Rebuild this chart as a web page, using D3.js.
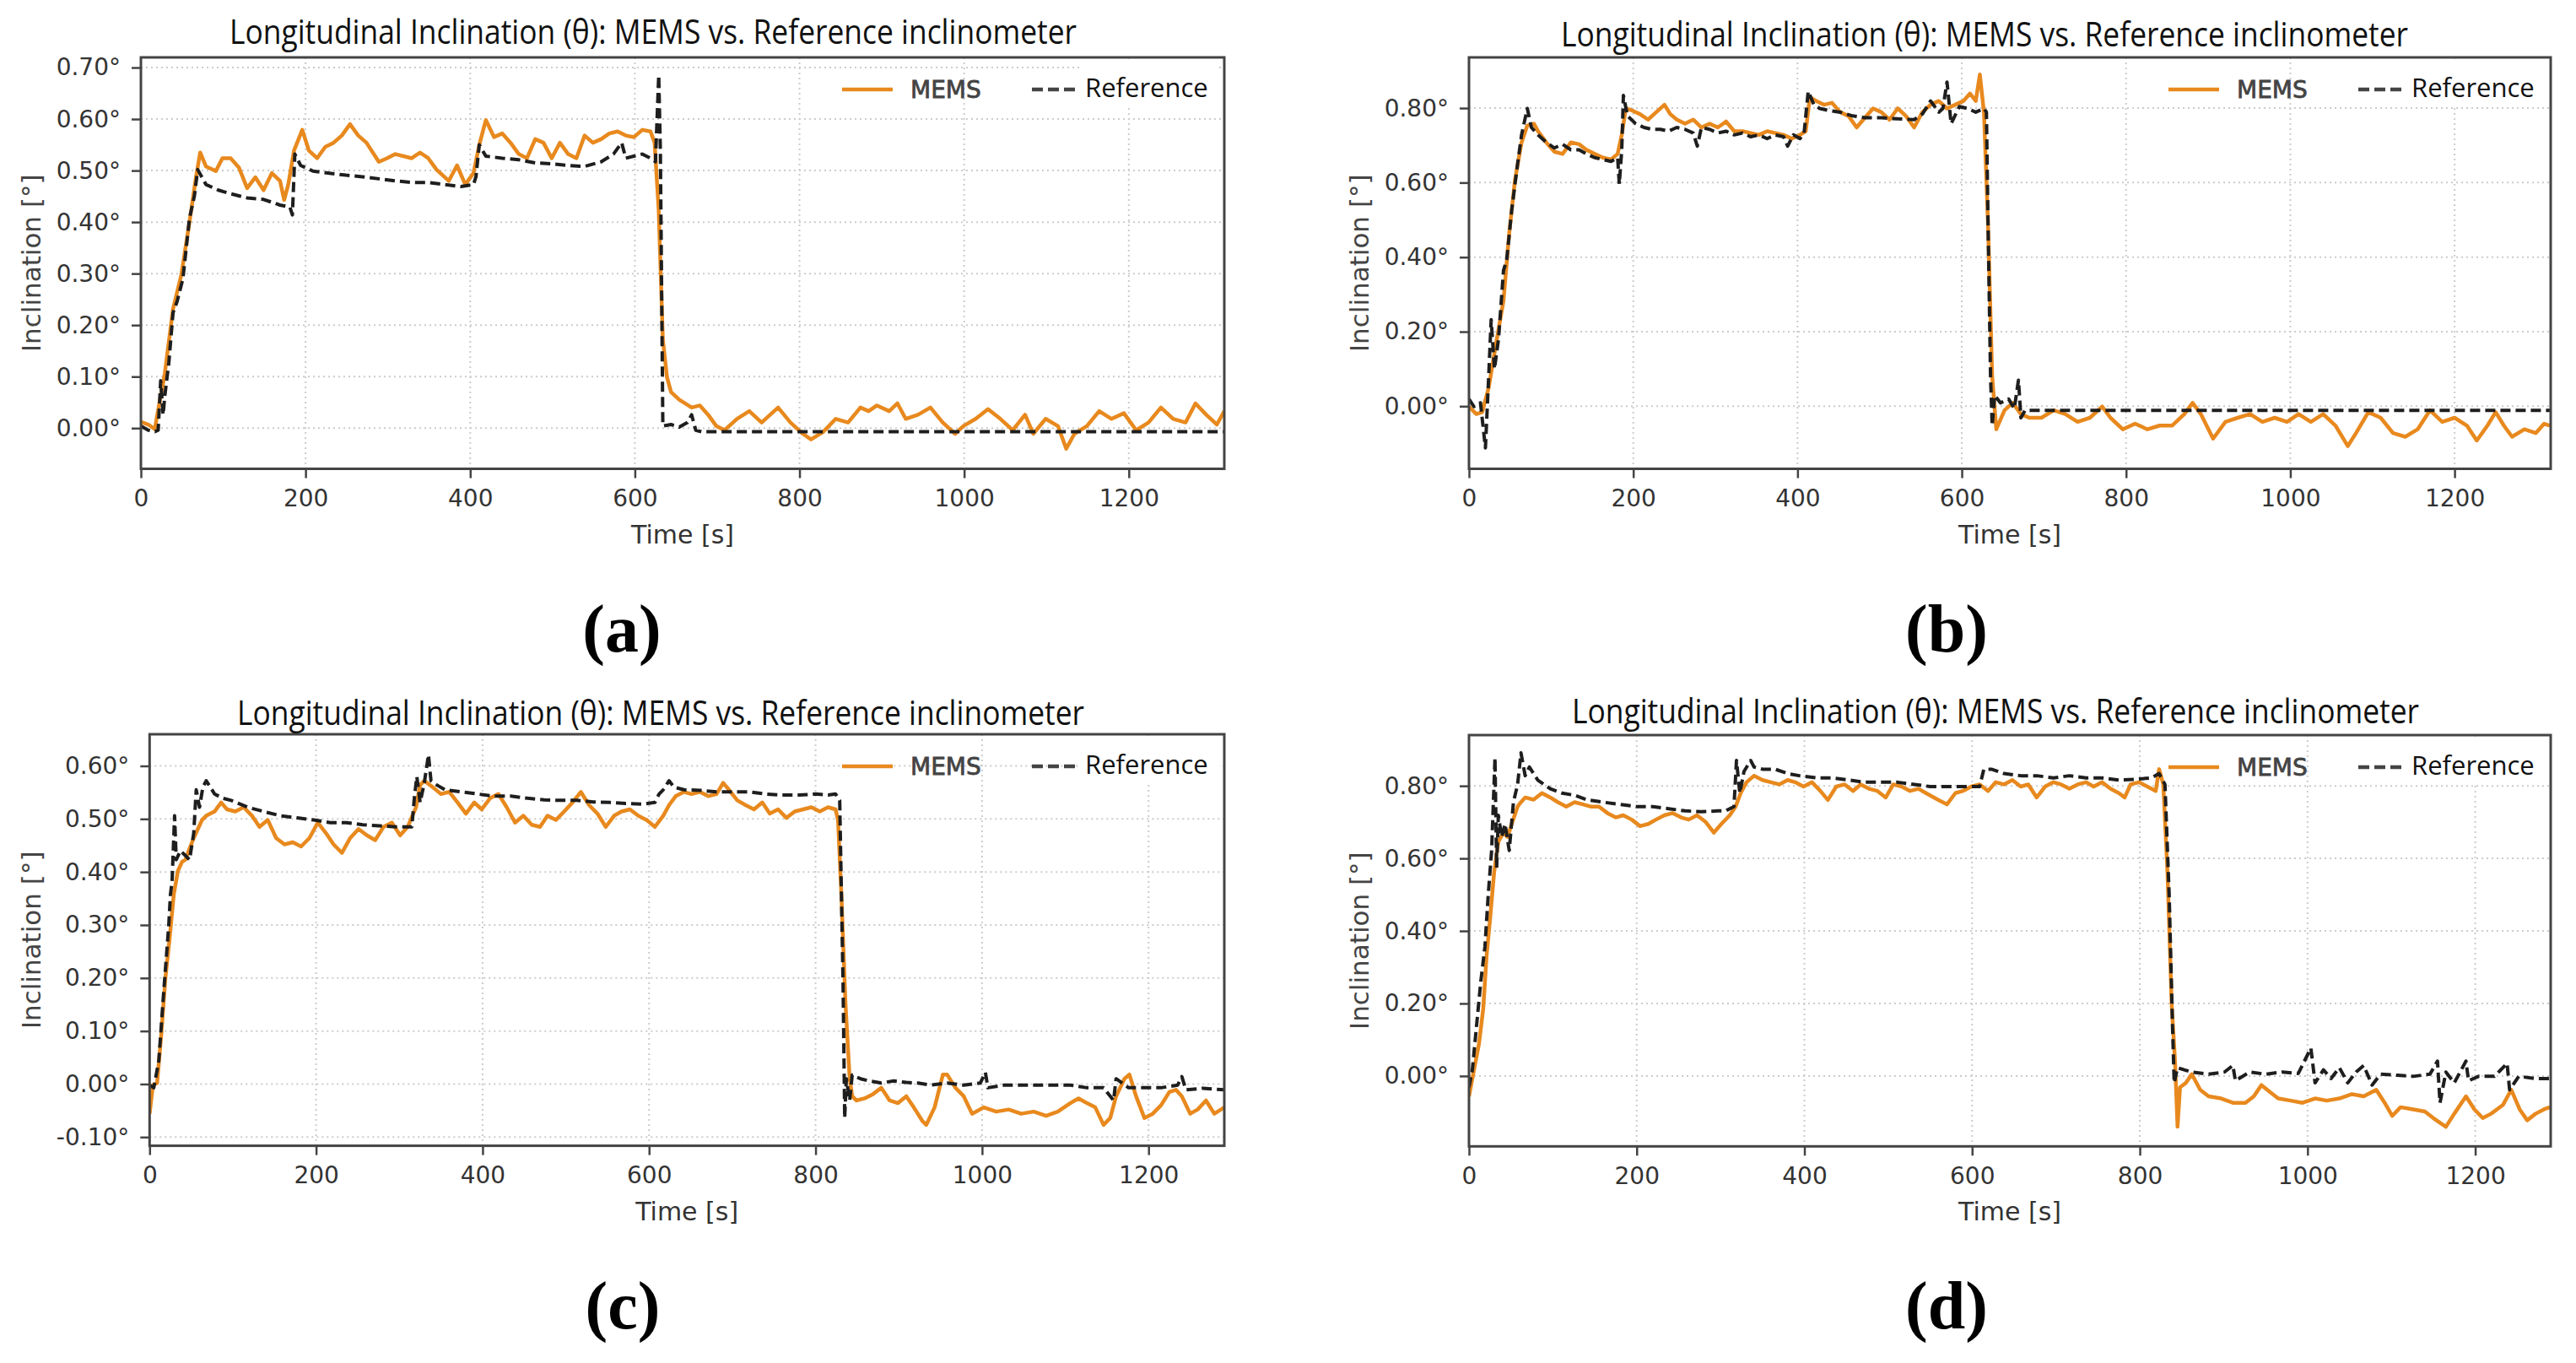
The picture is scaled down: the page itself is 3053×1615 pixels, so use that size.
<!DOCTYPE html>
<html>
<head>
<meta charset="utf-8">
<script src="https://cdn.jsdelivr.net/npm/d3@7"></script>
<style>
  body { margin: 0; background: #fff; }
  svg { display: block; }
</style>
</head>
<body>
<svg id="fig" width="3053" height="1615"></svg>
<script>
// ---- data ----
var titleText = "Longitudinal Inclination (θ): MEMS vs. Reference inclinometer";
var xLabel = "Time [s]";
var yLabel = "Inclination [°]";
var seriesNames = ["MEMS", "Reference"];
var panelTags = ["(a)", "(b)", "(c)", "(d)"];

var xTicks = [0, 200, 400, 600, 800, 1000, 1200];
var yTicksA = [0, 0.1, 0.2, 0.3, 0.4, 0.5, 0.6, 0.7];
var yTicksB = [0, 0.2, 0.4, 0.6, 0.8];
var yTicksC = [-0.1, 0, 0.1, 0.2, 0.3, 0.4, 0.5, 0.6];
var yTicksD = [0, 0.2, 0.4, 0.6, 0.8];

// [time s, inclination deg]
var memsA = [[0,0.012],[9,0.007],[17,-0.002],[19,0.018],[29,0.106],[39,0.231],[49,0.297],[59,0.400],[67,0.488],[72,0.535],[79,0.508],[91,0.499],[99,0.524],[109,0.524],[119,0.506],[129,0.466],[139,0.487],[149,0.462],[159,0.495],[169,0.480],[174,0.443],[179,0.473],[186,0.539],[196,0.579],[204,0.539],[214,0.524],[224,0.546],[234,0.554],[244,0.568],[254,0.590],[264,0.568],[274,0.554],[289,0.517],[299,0.524],[309,0.532],[329,0.524],[339,0.535],[349,0.524],[359,0.502],[374,0.480],[384,0.510],[394,0.473],[404,0.495],[411,0.550],[419,0.598],[429,0.565],[439,0.572],[449,0.554],[459,0.532],[469,0.524],[479,0.561],[489,0.554],[499,0.524],[509,0.554],[519,0.532],[529,0.524],[539,0.568],[549,0.554],[559,0.561],[569,0.572],[579,0.576],[589,0.568],[599,0.565],[609,0.579],[619,0.576],[624,0.554],[629,0.422],[634,0.172],[639,0.099],[644,0.070],[654,0.055],[669,0.040],[679,0.044],[689,0.026],[699,0.004],[709,-0.004],[724,0.018],[739,0.033],[754,0.011],[774,0.040],[789,0.011],[804,-0.011],[814,-0.022],[829,-0.007],[844,0.018],[859,0.011],[874,0.040],[884,0.033],[894,0.044],[909,0.033],[919,0.048],[929,0.018],[944,0.026],[959,0.040],[974,0.011],[989,-0.011],[999,0.004],[1014,0.018],[1029,0.037],[1044,0.018],[1059,-0.004],[1074,0.026],[1084,-0.011],[1099,0.018],[1114,0.004],[1124,-0.040],[1134,-0.011],[1149,0.004],[1164,0.033],[1179,0.018],[1194,0.029],[1209,-0.004],[1224,0.011],[1239,0.040],[1254,0.018],[1269,0.011],[1281,0.048],[1294,0.026],[1307,0.007],[1316,0.033]];
var refA = [[0,0.004],[9,-0.004],[17,-0.007],[21,-0.004],[24,0.092],[27,0.026],[29,0.062],[34,0.128],[39,0.224],[44,0.246],[51,0.290],[59,0.407],[65,0.451],[69,0.502],[79,0.473],[94,0.462],[109,0.455],[129,0.447],[149,0.444],[169,0.433],[181,0.429],[184,0.414],[187,0.532],[194,0.510],[209,0.499],[229,0.495],[249,0.491],[269,0.488],[289,0.484],[309,0.480],[329,0.477],[349,0.477],[369,0.473],[389,0.469],[404,0.473],[407,0.488],[411,0.550],[419,0.528],[439,0.524],[459,0.521],[479,0.515],[499,0.513],[519,0.510],[539,0.508],[559,0.517],[574,0.532],[584,0.554],[589,0.524],[599,0.528],[609,0.532],[619,0.524],[625,0.517],[629,0.685],[631,0.539],[634,0.004],[644,0.007],[654,0.002],[664,0.011],[669,0.026],[674,-0.004],[681,-0.007],[1316,-0.007]];

var memsB = [[0,-0.001],[9,-0.021],[16,-0.016],[24,0.050],[34,0.181],[42,0.283],[49,0.465],[56,0.607],[64,0.708],[71,0.753],[79,0.758],[84,0.738],[94,0.708],[104,0.683],[114,0.677],[124,0.708],[134,0.703],[143,0.688],[153,0.677],[163,0.667],[173,0.662],[181,0.677],[186,0.728],[191,0.799],[198,0.794],[208,0.784],[218,0.769],[228,0.789],[238,0.809],[245,0.784],[253,0.769],[263,0.758],[273,0.769],[283,0.748],[293,0.758],[303,0.748],[313,0.764],[323,0.738],[333,0.738],[343,0.733],[353,0.728],[363,0.738],[373,0.733],[383,0.728],[393,0.718],[403,0.728],[410,0.738],[415,0.829],[423,0.819],[432,0.809],[442,0.814],[452,0.789],[462,0.779],[472,0.748],[482,0.774],[492,0.799],[502,0.789],[512,0.769],[522,0.799],[532,0.779],[542,0.748],[552,0.789],[562,0.809],[572,0.819],[582,0.799],[592,0.809],[602,0.819],[610,0.839],[617,0.819],[622,0.890],[627,0.789],[632,0.485],[637,0.080],[642,-0.062],[652,-0.011],[662,0.009],[672,-0.021],[682,-0.031],[697,-0.031],[712,-0.011],[726,-0.021],[741,-0.042],[756,-0.031],[771,-0.001],[781,-0.031],[796,-0.062],[811,-0.047],[826,-0.062],[841,-0.052],[856,-0.052],[871,-0.021],[881,0.009],[891,-0.021],[906,-0.087],[921,-0.042],[936,-0.031],[951,-0.021],[966,-0.042],[981,-0.031],[996,-0.042],[1010,-0.021],[1025,-0.042],[1040,-0.021],[1055,-0.052],[1070,-0.107],[1080,-0.072],[1095,-0.016],[1110,-0.031],[1125,-0.072],[1140,-0.082],[1155,-0.062],[1170,-0.011],[1185,-0.042],[1200,-0.031],[1215,-0.052],[1227,-0.092],[1240,-0.052],[1250,-0.016],[1260,-0.052],[1270,-0.082],[1285,-0.062],[1299,-0.072],[1309,-0.047],[1316,-0.052]];
var refB = [[0,0.019],[6,-0.001],[14,0.009],[20,-0.112],[24,0.080],[27,0.232],[31,0.100],[36,0.181],[42,0.364],[46,0.394],[52,0.526],[59,0.647],[64,0.728],[71,0.799],[76,0.748],[84,0.728],[94,0.708],[104,0.693],[114,0.703],[124,0.688],[134,0.688],[143,0.677],[153,0.667],[163,0.662],[173,0.657],[181,0.667],[183,0.596],[186,0.688],[188,0.834],[193,0.779],[203,0.758],[213,0.748],[223,0.743],[233,0.743],[243,0.738],[253,0.748],[263,0.743],[273,0.733],[278,0.698],[283,0.748],[293,0.743],[303,0.733],[313,0.738],[323,0.728],[333,0.733],[343,0.723],[353,0.728],[363,0.718],[373,0.728],[383,0.723],[388,0.698],[395,0.728],[403,0.718],[408,0.733],[413,0.845],[420,0.809],[427,0.799],[437,0.794],[452,0.789],[467,0.779],[482,0.774],[502,0.774],[522,0.771],[542,0.769],[552,0.784],[562,0.819],[572,0.789],[577,0.799],[582,0.870],[587,0.758],[597,0.804],[607,0.799],[617,0.789],[627,0.799],[630,0.789],[632,0.485],[635,0.080],[637,-0.052],[640,0.029],[647,0.009],[657,0.019],[664,-0.006],[669,0.070],[672,-0.031],[677,-0.011],[1316,-0.011]];

var memsC = [[0,-0.056],[4,-0.002],[9,0.002],[14,0.093],[19,0.200],[24,0.274],[29,0.357],[34,0.402],[39,0.419],[43,0.423],[48,0.444],[53,0.464],[58,0.481],[63,0.498],[68,0.506],[78,0.514],[86,0.531],[93,0.518],[103,0.514],[113,0.522],[123,0.506],[132,0.485],[142,0.498],[152,0.464],[162,0.452],[172,0.456],[182,0.448],[192,0.464],[202,0.493],[212,0.473],[221,0.452],[231,0.436],[241,0.464],[251,0.481],[261,0.469],[271,0.460],[281,0.485],[291,0.493],[301,0.469],[310,0.485],[320,0.522],[325,0.564],[330,0.572],[340,0.560],[350,0.547],[360,0.551],[370,0.531],[380,0.510],[390,0.531],[399,0.518],[409,0.539],[419,0.547],[429,0.522],[439,0.493],[449,0.506],[459,0.489],[469,0.485],[478,0.506],[488,0.498],[498,0.514],[508,0.531],[518,0.551],[528,0.526],[538,0.510],[548,0.485],[558,0.506],[567,0.514],[577,0.518],[587,0.506],[597,0.498],[607,0.485],[617,0.506],[624,0.526],[632,0.543],[642,0.551],[651,0.547],[661,0.551],[671,0.543],[681,0.547],[689,0.568],[696,0.555],[706,0.535],[716,0.526],[726,0.518],[736,0.531],[745,0.510],[755,0.518],[765,0.502],[775,0.514],[785,0.518],[795,0.522],[805,0.514],[815,0.522],[824,0.518],[827,0.498],[831,0.357],[836,0.150],[841,0.010],[844,-0.023],[849,-0.031],[859,-0.027],[869,-0.019],[879,-0.007],[889,-0.031],[899,-0.036],[909,-0.023],[918,-0.044],[928,-0.069],[933,-0.077],[943,-0.044],[953,0.018],[958,0.018],[968,-0.007],[978,-0.023],[988,-0.056],[1002,-0.044],[1017,-0.052],[1032,-0.048],[1047,-0.056],[1062,-0.052],[1077,-0.060],[1091,-0.052],[1106,-0.036],[1116,-0.027],[1126,-0.036],[1136,-0.044],[1146,-0.077],[1154,-0.064],[1161,-0.023],[1171,0.010],[1177,0.018],[1185,-0.023],[1195,-0.064],[1205,-0.056],[1215,-0.040],[1225,-0.015],[1233,-0.011],[1240,-0.023],[1250,-0.056],[1259,-0.048],[1269,-0.031],[1279,-0.056],[1291,-0.044]];
var refC = [[0,-0.002],[5,-0.007],[11,0.043],[17,0.175],[23,0.299],[25,0.357],[27,0.382],[30,0.506],[32,0.423],[37,0.440],[43,0.431],[48,0.423],[53,0.473],[56,0.555],[60,0.522],[64,0.560],[68,0.572],[73,0.560],[78,0.547],[88,0.539],[98,0.535],[118,0.522],[137,0.514],[157,0.506],[177,0.502],[197,0.498],[217,0.493],[236,0.493],[256,0.489],[276,0.487],[296,0.485],[315,0.485],[318,0.539],[321,0.580],[325,0.531],[330,0.568],[335,0.621],[338,0.572],[345,0.564],[355,0.555],[375,0.551],[394,0.547],[414,0.543],[434,0.543],[454,0.539],[474,0.536],[493,0.535],[513,0.535],[533,0.532],[553,0.531],[572,0.529],[592,0.528],[607,0.531],[612,0.547],[617,0.555],[624,0.572],[630,0.560],[642,0.555],[661,0.554],[681,0.551],[701,0.551],[721,0.551],[740,0.547],[760,0.545],[780,0.545],[800,0.547],[815,0.545],[824,0.547],[829,0.535],[833,0.192],[835,-0.064],[837,0.010],[841,-0.031],[844,0.017],[854,0.010],[864,0.006],[879,0.002],[894,0.006],[909,0.003],[923,0.002],[938,-0.002],[958,0.002],[978,-0.002],[998,0.002],[1004,0.022],[1007,-0.007],[1027,-0.002],[1047,-0.002],[1067,-0.002],[1086,-0.002],[1106,-0.002],[1126,-0.007],[1146,-0.007],[1158,-0.031],[1161,0.010],[1176,-0.007],[1195,-0.007],[1215,-0.007],[1235,-0.002],[1240,0.014],[1245,-0.011],[1265,-0.008],[1291,-0.011]];

var memsD = [[0,-0.056],[6,0.017],[12,0.090],[17,0.186],[21,0.332],[25,0.429],[30,0.562],[35,0.646],[41,0.671],[46,0.659],[51,0.695],[58,0.743],[62,0.755],[67,0.768],[77,0.762],[87,0.780],[97,0.768],[106,0.755],[116,0.743],[126,0.755],[136,0.749],[145,0.743],[155,0.743],[165,0.725],[175,0.713],[184,0.719],[194,0.707],[204,0.689],[214,0.695],[223,0.707],[233,0.719],[243,0.725],[253,0.713],[262,0.707],[272,0.719],[282,0.701],[292,0.671],[301,0.695],[311,0.719],[318,0.743],[324,0.780],[331,0.810],[340,0.828],[350,0.816],[360,0.810],[370,0.804],[380,0.816],[389,0.810],[399,0.798],[409,0.810],[419,0.786],[428,0.761],[438,0.798],[448,0.804],[458,0.786],[467,0.804],[477,0.792],[487,0.786],[497,0.768],[506,0.804],[516,0.798],[526,0.786],[536,0.792],[545,0.780],[560,0.761],[570,0.749],[580,0.780],[589,0.786],[599,0.798],[609,0.804],[619,0.786],[628,0.810],[638,0.804],[648,0.816],[658,0.798],[667,0.804],[677,0.768],[687,0.798],[697,0.810],[706,0.804],[716,0.792],[726,0.804],[736,0.810],[745,0.798],[755,0.810],[765,0.792],[775,0.780],[782,0.768],[789,0.804],[799,0.810],[809,0.798],[819,0.786],[823,0.846],[828,0.804],[833,0.562],[838,0.199],[842,0.041],[845,-0.140],[848,-0.031],[855,-0.019],[862,0.005],[872,-0.038],[882,-0.056],[897,-0.062],[911,-0.074],[926,-0.074],[936,-0.056],[945,-0.025],[955,-0.044],[965,-0.062],[980,-0.068],[994,-0.074],[1009,-0.062],[1023,-0.068],[1038,-0.062],[1053,-0.050],[1067,-0.056],[1082,-0.038],[1092,-0.074],[1101,-0.110],[1111,-0.086],[1126,-0.092],[1140,-0.098],[1150,-0.116],[1165,-0.140],[1175,-0.104],[1189,-0.056],[1199,-0.092],[1209,-0.116],[1219,-0.104],[1233,-0.080],[1243,-0.038],[1253,-0.092],[1262,-0.122],[1272,-0.104],[1282,-0.092],[1289,-0.086]];
var refD = [[0,-0.031],[4,0.017],[9,0.138],[14,0.259],[19,0.356],[23,0.501],[27,0.622],[31,0.877],[33,0.574],[35,0.719],[39,0.659],[43,0.695],[48,0.622],[53,0.755],[58,0.804],[62,0.891],[67,0.828],[72,0.852],[82,0.816],[97,0.792],[111,0.780],[126,0.774],[140,0.762],[160,0.755],[180,0.749],[199,0.743],[219,0.743],[238,0.737],[258,0.731],[277,0.729],[297,0.731],[306,0.731],[316,0.743],[319,0.870],[323,0.780],[328,0.840],[336,0.870],[340,0.852],[350,0.846],[365,0.846],[380,0.834],[394,0.828],[414,0.822],[433,0.822],[453,0.816],[472,0.810],[492,0.810],[511,0.810],[531,0.804],[550,0.798],[570,0.798],[589,0.798],[609,0.798],[614,0.846],[623,0.846],[638,0.834],[658,0.828],[677,0.828],[697,0.822],[716,0.828],[736,0.822],[755,0.822],[775,0.816],[794,0.818],[814,0.822],[823,0.834],[830,0.804],[835,0.501],[839,0.138],[841,-0.019],[845,0.023],[853,0.017],[862,0.011],[882,0.005],[901,0.011],[911,0.029],[914,-0.013],[931,0.011],[950,0.005],[970,0.011],[989,0.007],[1004,0.077],[1009,-0.019],[1019,0.017],[1028,-0.007],[1038,0.023],[1048,-0.019],[1058,0.011],[1067,0.029],[1077,-0.025],[1087,0.005],[1107,0.002],[1126,-0.001],[1146,0.005],[1155,0.041],[1158,-0.074],[1165,0.011],[1175,-0.019],[1189,0.041],[1192,-0.013],[1204,-0.001],[1223,-0.001],[1238,0.035],[1241,-0.038],[1252,-0.001],[1272,-0.007],[1289,-0.007]];

// ---- layout ----
var panels = [
  {tag: panelTags[0], mems: memsA, ref: refA, yTicks: yTicksA, xDom: [0, 1316], yDom: [-0.079, 0.7197],
   left: 167, top: 68, right: 1451, bottom: 555.5, titleX: 774, titleY: 52, tagX: 737},
  {tag: panelTags[1], mems: memsB, ref: refB, yTicks: yTicksB, xDom: [0, 1317], yDom: [-0.168, 0.936],
   left: 1741, top: 68, right: 3023, bottom: 555.5, titleX: 2352, titleY: 55, tagX: 2307},
  {tag: panelTags[2], mems: memsC, ref: refC, yTicks: yTicksC, xDom: [0, 1291], yDom: [-0.1164, 0.6597],
   left: 177.3, top: 870, right: 1451, bottom: 1357.6, titleX: 783, titleY: 859, tagX: 738},
  {tag: panelTags[3], mems: memsD, ref: refD, yTicks: yTicksD, xDom: [0, 1290], yDom: [-0.194, 0.940],
   left: 1741, top: 871, right: 3023, bottom: 1358.3, titleX: 2365, titleY: 857, tagX: 2307}
];

var memsColor = "#e8891e";
var refColor = "#1e1e1e";
var axisColor = "#444444";
var tickFont = "'DejaVu Sans', sans-serif";
var titleFont = "'Open Sans', sans-serif";

var svg = d3.select("#fig");
var degFmt = function(d) { return (d < -1e-9 ? "-" : "") + Math.abs(d).toFixed(2) + "°"; };

panels.forEach(function(p, i) {
  var x = d3.scaleLinear().domain(p.xDom).range([p.left, p.right]);
  var y = d3.scaleLinear().domain(p.yDom).range([p.bottom, p.top]);
  var g = svg.append("g").attr("class", "panel panel-" + i);

  g.append("clipPath").attr("id", "clip" + i)
    .append("rect").attr("x", p.left).attr("y", p.top)
    .attr("width", p.right - p.left).attr("height", p.bottom - p.top);

  //dotted grid
  g.append("g").selectAll("line").data(p.yTicks).join("line")
    .attr("x1", p.left).attr("x2", p.right).attr("y1", d => y(d)).attr("y2", d => y(d))
    .attr("stroke", "#cccccc").attr("stroke-width", 2).attr("stroke-dasharray", "2,4");
  g.append("g").selectAll("line").data(xTicks.slice(1)).join("line")
    .attr("y1", p.top).attr("y2", p.bottom).attr("x1", d => x(d)).attr("x2", d => x(d))
    .attr("stroke", "#cccccc").attr("stroke-width", 2).attr("stroke-dasharray", "2,4");

  //white patch behind legend (as in the source)
  g.append("rect").attr("x", p.right - 172).attr("y", p.top + 6)
    .attr("width", 166).attr("height", 50).attr("fill", "#fff");

  //series
  var line = d3.line().x(d => x(d[0])).y(d => y(d[1]));
  var plot = g.append("g").attr("clip-path", "url(#clip" + i + ")");
  plot.append("path").datum(p.mems).attr("d", line)
    .attr("fill", "none").attr("stroke", memsColor).attr("stroke-width", 4.5)
    .attr("stroke-linejoin", "round");
  plot.append("path").datum(p.ref).attr("d", line)
    .attr("fill", "none").attr("stroke", refColor).attr("stroke-width", 4)
    .attr("stroke-dasharray", "12,6").attr("stroke-linejoin", "round");

  //axes
  var yAxis = g.append("g").attr("transform", `translate(${p.left},0)`)
    .call(d3.axisLeft(y).tickValues(p.yTicks).tickSize(11).tickPadding(13).tickFormat(degFmt));
  var xAxis = g.append("g").attr("transform", `translate(0,${p.bottom})`)
    .call(d3.axisBottom(x).tickValues(xTicks).tickSize(11).tickPadding(14).tickFormat(d3.format("d")));
  [yAxis, xAxis].forEach(function(a) {
    a.select(".domain").remove();
    a.selectAll(".tick line").attr("stroke", axisColor).attr("stroke-width", 2.5);
    a.selectAll(".tick text").attr("fill", "#333").attr("font-family", tickFont).attr("font-size", 28);
  });

  //frame
  g.append("rect").attr("x", p.left).attr("y", p.top)
    .attr("width", p.right - p.left).attr("height", p.bottom - p.top)
    .attr("fill", "none").attr("stroke", axisColor).attr("stroke-width", 3);

  //labels
  var yb = yAxis.node().getBBox();
  g.append("text").text(yLabel)
    .attr("transform", `translate(${p.left + yb.x - 30},${(p.top + p.bottom) / 2}) rotate(-90)`)
    .attr("text-anchor", "middle").attr("dominant-baseline", "central")
    .attr("font-family", tickFont).attr("font-size", 31).attr("fill", "#444");
  g.append("text").text(xLabel)
    .attr("x", (p.left + p.right) / 2).attr("y", p.bottom + 88)
    .attr("text-anchor", "middle")
    .attr("font-family", tickFont).attr("font-size", 30).attr("fill", "#333");
  g.append("text").text(titleText)
    .attr("x", p.titleX).attr("y", p.titleY)
    .attr("text-anchor", "middle").attr("textLength", 1004).attr("lengthAdjust", "spacingAndGlyphs")
    .attr("font-family", titleFont).attr("font-size", 40).attr("fill", "#111");
  g.append("text").text(p.tag)
    .attr("x", p.tagX).attr("y", p.bottom + 216)
    .attr("text-anchor", "middle")
    .attr("font-family", "'Liberation Serif', serif").attr("font-weight", "bold")
    .attr("font-size", 80).attr("fill", "#000");

  //legend
  var ly = p.top + 38;
  var leg = g.append("g").attr("class", "legend");
  leg.append("line").attr("x1", p.right - 453).attr("x2", p.right - 393).attr("y1", ly).attr("y2", ly)
    .attr("stroke", memsColor).attr("stroke-width", 4.5);
  leg.append("text").text(seriesNames[0]).attr("x", p.right - 372).attr("y", ly + 10)
    .attr("font-family", tickFont).attr("font-size", 28)
    .attr("fill", "#444").attr("stroke", "#444").attr("stroke-width", 0.8);
  leg.append("line").attr("x1", p.right - 228).attr("x2", p.right - 175).attr("y1", ly).attr("y2", ly)
    .attr("stroke", "#444").attr("stroke-width", 4.5).attr("stroke-dasharray", "13,6");
  leg.append("text").text(seriesNames[1]).attr("x", p.right - 165).attr("y", ly + 9)
    .attr("font-family", titleFont).attr("font-size", 31).attr("fill", "#111");
});
</script>
</body>
</html>
